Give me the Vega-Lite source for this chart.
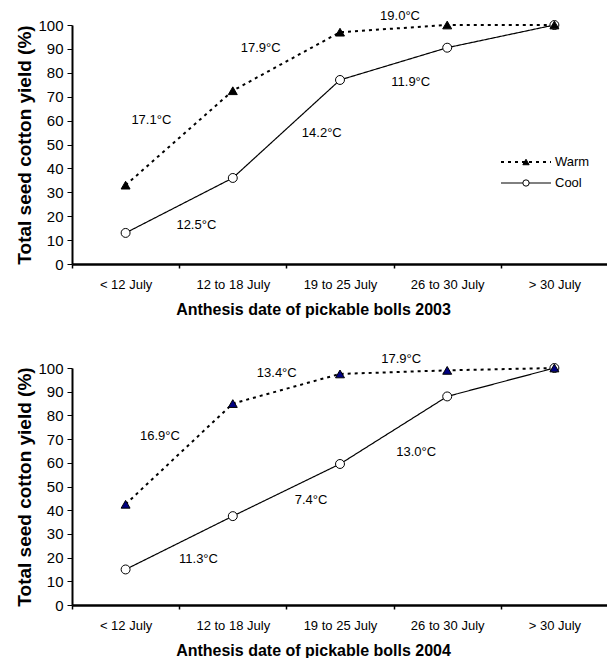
{
  "$schema": "https://vega.github.io/schema/vega-lite/v6.json",
  "padding": {"left": 15, "top": 9, "right": 0, "bottom": 0},
  "background": "white",
  "config": {
    "font": "Liberation Sans",
    "view": {"stroke": null},
    "axis": {"grid": false, "domainColor": "black", "tickColor": "black", "labelColor": "black", "titleColor": "black", "labelFont": "Liberation Sans", "titleFont": "Liberation Sans"},
    "legend": {"labelFont": "Liberation Sans", "labelColor": "black"},
    "text": {"font": "Liberation Sans"}
  },
  "datasets": {
    "y2003": [
      {"period": "< 12 July", "series": "Cool", "yield": 13},
      {"period": "12 to 18 July", "series": "Cool", "yield": 36},
      {"period": "19 to 25 July", "series": "Cool", "yield": 77},
      {"period": "26 to 30 July", "series": "Cool", "yield": 90.5},
      {"period": "> 30 July", "series": "Cool", "yield": 100},
      {"period": "< 12 July", "series": "Warm", "yield": 33},
      {"period": "12 to 18 July", "series": "Warm", "yield": 72.5},
      {"period": "19 to 25 July", "series": "Warm", "yield": 97},
      {"period": "26 to 30 July", "series": "Warm", "yield": 100},
      {"period": "> 30 July", "series": "Warm", "yield": 100}
    ],
    "y2004": [
      {"period": "< 12 July", "series": "Cool", "yield": 15},
      {"period": "12 to 18 July", "series": "Cool", "yield": 37.5},
      {"period": "19 to 25 July", "series": "Cool", "yield": 59.5},
      {"period": "26 to 30 July", "series": "Cool", "yield": 88},
      {"period": "> 30 July", "series": "Cool", "yield": 100},
      {"period": "< 12 July", "series": "Warm", "yield": 42.5},
      {"period": "12 to 18 July", "series": "Warm", "yield": 85},
      {"period": "19 to 25 July", "series": "Warm", "yield": 97.5},
      {"period": "26 to 30 July", "series": "Warm", "yield": 99},
      {"period": "> 30 July", "series": "Warm", "yield": 100}
    ],
    "t2003": [
      {"pos": 0.24, "value": 60.3, "label": "17.1°C"},
      {"pos": 1.26, "value": 90.5, "label": "17.9°C"},
      {"pos": 0.66, "value": 16.5, "label": "12.5°C"},
      {"pos": 1.83, "value": 54.8, "label": "14.2°C"},
      {"pos": 2.56, "value": 103.8, "label": "19.0°C"},
      {"pos": 2.66, "value": 76.2, "label": "11.9°C"}
    ],
    "t2004": [
      {"pos": 0.32, "value": 71.3, "label": "16.9°C"},
      {"pos": 1.41, "value": 97.9, "label": "13.4°C"},
      {"pos": 0.68, "value": 19.4, "label": "11.3°C"},
      {"pos": 1.73, "value": 44.3, "label": "7.4°C"},
      {"pos": 2.71, "value": 64.6, "label": "13.0°C"},
      {"pos": 2.57, "value": 103.8, "label": "17.9°C"}
    ]
  },
  "bounds": "flush",
  "spacing": 104,
  "resolve": {
    "scale": {"x": "independent", "y": "independent", "shape": "independent", "fill": "independent", "stroke": "independent", "strokeDash": "independent", "strokeWidth": "independent"},
    "legend": {"shape": "independent", "fill": "independent", "stroke": "independent", "strokeDash": "independent", "strokeWidth": "independent"}
  },
  "vconcat": [
    {
      "width": 536,
      "height": 239,
      "data": {"name": "y2003"},
      "resolve": {"scale": {"x": "independent"}},
      "layer": [
        {
          "layer": [
            {
              "mark": {"type": "line", "color": "black"},
              "encoding": {
                "x": {"field": "period", "type": "nominal", "sort": ["< 12 July", "12 to 18 July", "19 to 25 July", "26 to 30 July", "> 30 July"], "scale": {"type": "band", "paddingInner": 0, "paddingOuter": 0},
                  "axis": {"title": "Anthesis date of pickable bolls 2003", "titleFontSize": 16, "titleFontWeight": "bold", "labelFontSize": 13, "labelAngle": 0, "tickBand": "extent", "tickSize": 4, "tickWidth": 1.5, "domainWidth": 2.5, "labelPadding": 10, "titlePadding": 10, "titleX": 241}},
                "y": {"field": "yield", "type": "quantitative", "scale": {"domain": [0, 100], "nice": false},
                  "axis": {"values": [0, 10, 20, 30, 40, 50, 60, 70, 80, 90, 100], "labelOverlap": false, "title": "Total seed cotton yield (%)", "titleFontSize": 19, "titleFontWeight": "bold", "labelFontSize": 15, "tickSize": 5, "tickWidth": 1, "domainWidth": 2, "labelPadding": 4, "titlePadding": 3}},
                "strokeDash": {"field": "series", "type": "nominal", "sort": "descending", "scale": {"range": [[3, 4], [1, 0]]},
                  "legend": {"orient": "none", "legendX": 428, "legendY": 127.5, "title": null, "symbolType": "stroke", "symbolSize": 2500, "symbolStrokeColor": "black", "labelFontSize": 13, "labelOffset": 3, "clipHeight": 19, "rowPadding": 2, "padding": 0}},
                "strokeWidth": {"field": "series", "type": "nominal", "sort": "descending", "scale": {"range": [2, 1.2]},
                  "legend": {"orient": "none", "legendX": 428, "legendY": 127.5, "title": null, "symbolType": "stroke", "symbolSize": 2500, "symbolStrokeColor": "black", "labelFontSize": 13, "labelOffset": 3, "clipHeight": 19, "rowPadding": 2, "padding": 0}}
              }
            },
            {
              "mark": {"type": "point", "filled": false, "color": "black", "strokeWidth": 1, "size": 80, "opacity": 1},
              "encoding": {
                "x": {"field": "period", "type": "nominal", "sort": ["< 12 July", "12 to 18 July", "19 to 25 July", "26 to 30 July", "> 30 July"], "scale": {"type": "band", "paddingInner": 0, "paddingOuter": 0},
                  "axis": {"title": "Anthesis date of pickable bolls 2003", "titleFontSize": 16, "titleFontWeight": "bold", "labelFontSize": 13, "labelAngle": 0, "tickBand": "extent", "tickSize": 4, "tickWidth": 1.5, "domainWidth": 2.5, "labelPadding": 10, "titlePadding": 10, "titleX": 241}},
                "y": {"field": "yield", "type": "quantitative", "scale": {"domain": [0, 100], "nice": false},
                  "axis": {"values": [0, 10, 20, 30, 40, 50, 60, 70, 80, 90, 100], "labelOverlap": false, "title": "Total seed cotton yield (%)", "titleFontSize": 19, "titleFontWeight": "bold", "labelFontSize": 15, "tickSize": 5, "tickWidth": 1, "domainWidth": 2, "labelPadding": 4, "titlePadding": 3}},
                "shape": {"field": "series", "type": "nominal", "scale": {"domain": ["Warm", "Cool"], "range": ["triangle-up", "circle"]},
                  "legend": {"orient": "none", "legendX": 447.5, "legendY": 127.5, "title": null, "symbolSize": 40, "symbolStrokeColor": "black", "symbolStrokeWidth": 1, "labelExpr": "''", "labelFontSize": 13, "clipHeight": 19, "rowPadding": 2, "padding": 0}},
                "fill": {"field": "series", "type": "nominal", "scale": {"domain": ["Warm", "Cool"], "range": ["black", "white"]},
                  "legend": {"orient": "none", "legendX": 447.5, "legendY": 127.5, "title": null, "symbolSize": 40, "symbolStrokeColor": "black", "symbolStrokeWidth": 1, "labelExpr": "''", "labelFontSize": 13, "clipHeight": 19, "rowPadding": 2, "padding": 0}},
                "stroke": {"field": "series", "type": "nominal", "scale": {"domain": ["Warm", "Cool"], "range": ["black", "black"]},
                  "legend": {"orient": "none", "legendX": 447.5, "legendY": 127.5, "title": null, "symbolSize": 40, "symbolStrokeColor": "black", "symbolStrokeWidth": 1, "labelExpr": "''", "labelFontSize": 13, "clipHeight": 19, "rowPadding": 2, "padding": 0}}
              }
            }
          ]
        },
        {
          "data": {"name": "t2003"},
          "mark": {"type": "text", "fontSize": 13, "color": "black"},
          "encoding": {
            "x": {"field": "pos", "type": "quantitative", "scale": {"domain": [-0.5, 4.5], "nice": false, "zero": false}, "axis": null},
            "y": {"field": "value", "type": "quantitative", "scale": {"domain": [0, 100], "nice": false},
              "axis": {"values": [0, 10, 20, 30, 40, 50, 60, 70, 80, 90, 100], "labelOverlap": false, "title": "Total seed cotton yield (%)", "titleFontSize": 19, "titleFontWeight": "bold", "labelFontSize": 15, "tickSize": 5, "tickWidth": 1, "domainWidth": 2, "labelPadding": 4, "titlePadding": 3}},
            "text": {"field": "label"}
          }
        }
      ]
    },
    {
      "width": 536,
      "height": 237,
      "data": {"name": "y2004"},
      "resolve": {"scale": {"x": "independent"}},
      "layer": [
        {
          "layer": [
            {
              "mark": {"type": "line", "color": "black"},
              "encoding": {
                "x": {"field": "period", "type": "nominal", "sort": ["< 12 July", "12 to 18 July", "19 to 25 July", "26 to 30 July", "> 30 July"], "scale": {"type": "band", "paddingInner": 0, "paddingOuter": 0},
                  "axis": {"title": "Anthesis date of pickable bolls 2004", "titleFontSize": 16, "titleFontWeight": "bold", "labelFontSize": 13, "labelAngle": 0, "tickBand": "extent", "tickSize": 4, "tickWidth": 1.5, "domainWidth": 2.5, "labelPadding": 10, "titlePadding": 10, "titleX": 241}},
                "y": {"field": "yield", "type": "quantitative", "scale": {"domain": [0, 100], "nice": false},
                  "axis": {"values": [0, 10, 20, 30, 40, 50, 60, 70, 80, 90, 100], "labelOverlap": false, "title": "Total seed cotton yield (%)", "titleFontSize": 19, "titleFontWeight": "bold", "labelFontSize": 15, "tickSize": 5, "tickWidth": 1, "domainWidth": 2, "labelPadding": 4, "titlePadding": 3}},
                "strokeDash": {"field": "series", "type": "nominal", "sort": "descending", "scale": {"range": [[3, 4], [1, 0]]}, "legend": null},
                "strokeWidth": {"field": "series", "type": "nominal", "sort": "descending", "scale": {"range": [2, 1.2]}, "legend": null}
              }
            },
            {
              "mark": {"type": "point", "filled": false, "color": "black", "strokeWidth": 1, "size": 80, "opacity": 1},
              "encoding": {
                "x": {"field": "period", "type": "nominal", "sort": ["< 12 July", "12 to 18 July", "19 to 25 July", "26 to 30 July", "> 30 July"], "scale": {"type": "band", "paddingInner": 0, "paddingOuter": 0},
                  "axis": {"title": "Anthesis date of pickable bolls 2004", "titleFontSize": 16, "titleFontWeight": "bold", "labelFontSize": 13, "labelAngle": 0, "tickBand": "extent", "tickSize": 4, "tickWidth": 1.5, "domainWidth": 2.5, "labelPadding": 10, "titlePadding": 10, "titleX": 241}},
                "y": {"field": "yield", "type": "quantitative", "scale": {"domain": [0, 100], "nice": false},
                  "axis": {"values": [0, 10, 20, 30, 40, 50, 60, 70, 80, 90, 100], "labelOverlap": false, "title": "Total seed cotton yield (%)", "titleFontSize": 19, "titleFontWeight": "bold", "labelFontSize": 15, "tickSize": 5, "tickWidth": 1, "domainWidth": 2, "labelPadding": 4, "titlePadding": 3}},
                "shape": {"field": "series", "type": "nominal", "scale": {"domain": ["Warm", "Cool"], "range": ["triangle-up", "circle"]}, "legend": null},
                "fill": {"field": "series", "type": "nominal", "scale": {"domain": ["Warm", "Cool"], "range": ["#000080", "white"]}, "legend": null},
                "stroke": {"field": "series", "type": "nominal", "scale": {"domain": ["Warm", "Cool"], "range": ["black", "black"]}, "legend": null}
              }
            }
          ]
        },
        {
          "data": {"name": "t2004"},
          "mark": {"type": "text", "fontSize": 13, "color": "black"},
          "encoding": {
            "x": {"field": "pos", "type": "quantitative", "scale": {"domain": [-0.5, 4.5], "nice": false, "zero": false}, "axis": null},
            "y": {"field": "value", "type": "quantitative", "scale": {"domain": [0, 100], "nice": false},
              "axis": {"values": [0, 10, 20, 30, 40, 50, 60, 70, 80, 90, 100], "labelOverlap": false, "title": "Total seed cotton yield (%)", "titleFontSize": 19, "titleFontWeight": "bold", "labelFontSize": 15, "tickSize": 5, "tickWidth": 1, "domainWidth": 2, "labelPadding": 4, "titlePadding": 3}},
            "text": {"field": "label"}
          }
        }
      ]
    }
  ]
}
